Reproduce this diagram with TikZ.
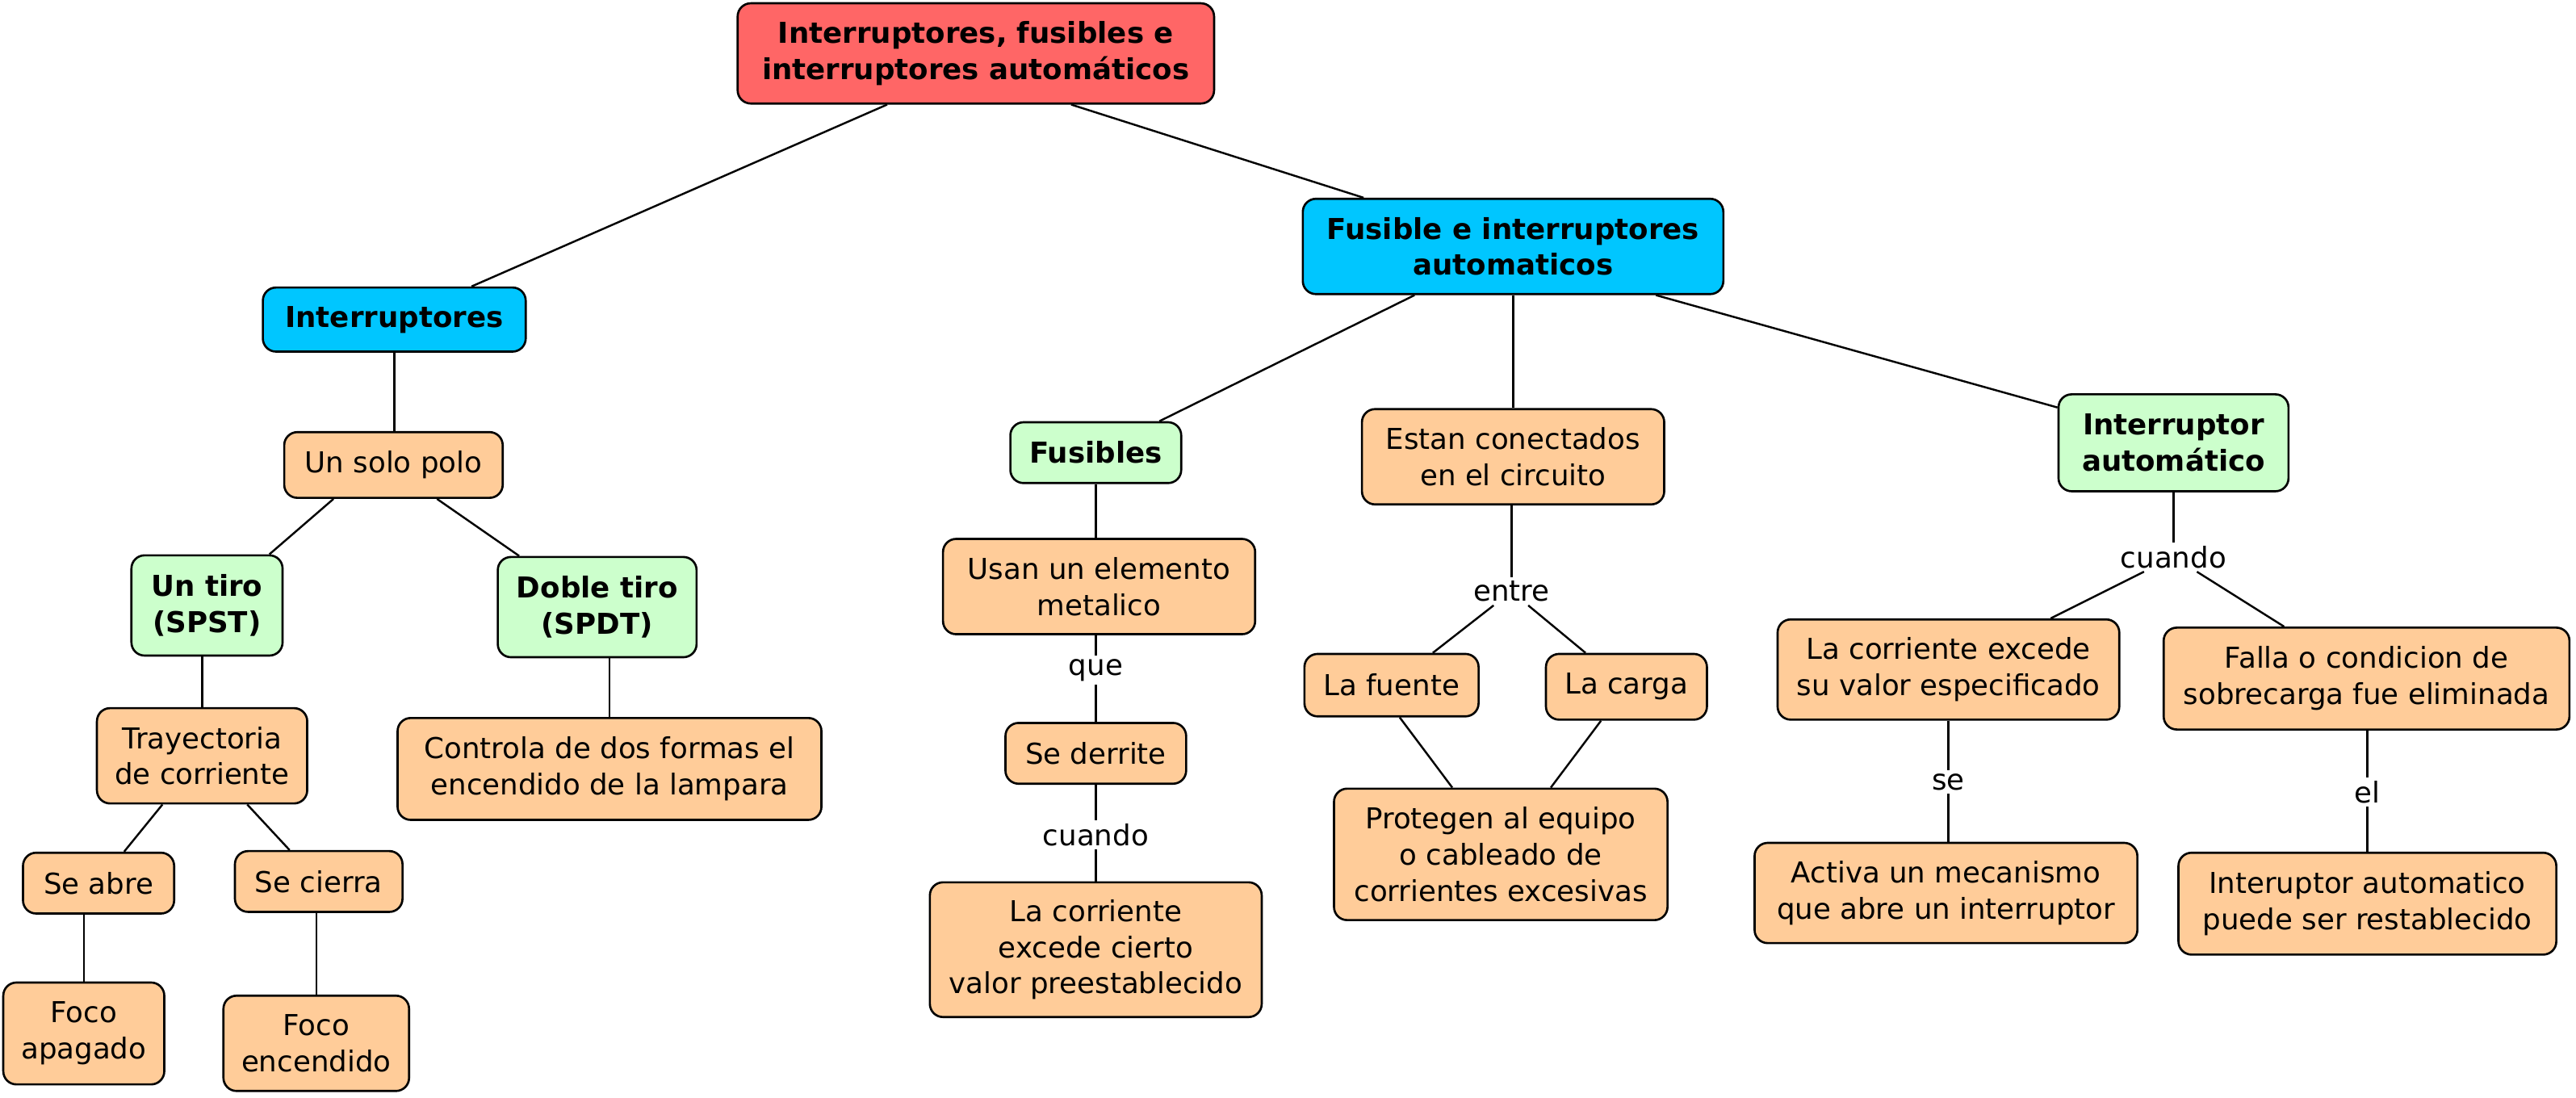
\documentclass[tikz,border=0pt]{standalone}
\usepackage{fontspec}
\setmainfont{DejaVu Sans}
\definecolor{cRed}{RGB}{255,102,102}
\definecolor{cCyan}{RGB}{0,198,255}
\definecolor{cGreen}{RGB}{204,255,204}
\definecolor{cPeach}{RGB}{255,204,153}
\begin{document}
\begin{tikzpicture}[x=1pt,y=-1pt,
  txt/.style={font=\fontsize{17.5}{22}\selectfont},
  btxt/.style={font=\fontsize{17.5}{22}\selectfont\bfseries},
  cbox/.style={draw=black, line width=1.3pt, rounded corners=8pt, align=center, inner sep=0pt},
  sz/.style args={#1/#2}{minimum width=#1pt, minimum height=#2pt},
  rootbox/.style={cbox, btxt, fill=cRed},
  cyanbox/.style={cbox, btxt, fill=cCyan},
  greenbox/.style={cbox, btxt, fill=cGreen},
  peachbox/.style={cbox, txt, fill=cPeach},
  lbl/.style={txt, inner sep=2pt},
  conn/.style={line width=1.2pt}
]
\useasboundingbox (0,0) rectangle (1568,668);
\fill[white] (0,0) rectangle (1568,668);

% nodes
\node[rootbox, sz=290/61] (root) at (594,32.5) {Interruptores, fusibles e\\ interruptores automáticos};
\node[cyanbox, sz=160/39] (int) at (240,194.5) {Interruptores};
\node[cyanbox, sz=256/58] (fus) at (921,150) {Fusible e interruptores\\automaticos};
\node[peachbox, sz=133/40] (usp) at (239.5,283) {Un solo polo};
\node[greenbox, sz=92/61] (untiro) at (126,368.5) {Un tiro\\(SPST)};
\node[greenbox, sz=121/61] (doble) at (363.5,369.5) {Doble tiro\\(SPDT)};
\node[peachbox, sz=128/58] (tray) at (123,460) {Trayectoria\\de corriente};
\node[peachbox, sz=258/62] (contr) at (371,468) {Controla de dos formas el\\encendido de la lampara};
\node[peachbox, sz=92/37] (seabre) at (60,537.5) {Se abre};
\node[peachbox, sz=102/37] (secierra) at (194,536.5) {Se cierra};
\node[peachbox, sz=98/62] (focoap) at (51,629) {Foco\\apagado};
\node[peachbox, sz=113/58] (focoen) at (192.5,635) {Foco\\encendido};

\node[greenbox, sz=104/37] (fusibles) at (667,275.5) {Fusibles};
\node[peachbox, sz=184/58] (estan) at (921,278) {Estan conectados\\en el circuito};
\node[greenbox, sz=140/59] (ia) at (1323,269.5) {Interruptor\\automático};
\node[peachbox, sz=190/58] (usan) at (669,357) {Usan un elemento\\metalico};
\node[peachbox, sz=110/37] (derr) at (667,458.5) {Se derrite};
\node[peachbox, sz=202/82] (corr1) at (667,578) {La corriente\\excede cierto\\valor preestablecido};
\node[peachbox, sz=106/38] (fuente) at (847,417) {La fuente};
\node[peachbox, sz=98/40] (carga) at (990,418) {La carga};
\node[peachbox, sz=203/80] (prot) at (913.5,520) {Protegen al equipo\\o cableado de\\corrientes excesivas};
\node[peachbox, sz=208/61] (corr2) at (1186,407.5) {La corriente excede\\su valor especificado};
\node[peachbox, sz=247/62] (falla) at (1440.5,413) {Falla o condicion de\\sobrecarga fue eliminada};
\node[peachbox, sz=233/61] (activa) at (1184.5,543.5) {Activa un mecanismo\\que abre un interruptor};
\node[peachbox, sz=230/62] (reest) at (1441,550) {Interuptor automatico\\puede ser restablecido};

% link labels
\node[lbl] (lque) at (667,408) {que};
\node[lbl] (lcuando1) at (667,508) {cuando};
\node[lbl] (lentre) at (920,360) {entre};
\node[lbl] (lcuando2) at (1323,339) {cuando};
\node[lbl] (lse) at (1186,476) {se};
\node[lbl] (lel) at (1441,482) {el};

% connectors
\draw[conn] ([xshift=-54pt]root.south) -- ([xshift=47pt]int.north);
\draw[conn] ([xshift=58pt]root.south) -- ([xshift=-91pt]fus.north);
\draw[conn] (int.south) -- (int.south |- usp.north);
\draw[conn] ([xshift=-36.5pt]usp.south) -- ([xshift=38pt]untiro.north);
\draw[conn] ([xshift=26.5pt]usp.south) -- ([xshift=-47.5pt]doble.north);
\draw[conn] (tray.north) -- (tray.north |- untiro.south);
\draw[conn] (contr.north) -- (contr.north |- doble.south);
\draw[conn] (tray) -- (seabre);
\draw[conn] (tray) -- (secierra);
\draw[conn] (focoap.north) -- (focoap.north |- seabre.south);
\draw[conn] (focoen.north) -- (focoen.north |- secierra.south);

\draw[conn] (fus) -- (fusibles);
\draw[conn] (fus) -- (estan);
\draw[conn] ([xshift=87pt]fus.south) -- ([yshift=21.5pt]ia.west);
\draw[conn] (fusibles.south) -- (fusibles.south |- usan.north);
\draw[conn] (usan.south -| lque) -- (lque);
\draw[conn] (lque) -- (derr);
\draw[conn] (derr) -- (lcuando1);
\draw[conn] (lcuando1) -- (corr1);
\draw[conn] (estan.south -| lentre) -- (lentre);
\draw[conn] (lentre) -- (fuente);
\draw[conn] (lentre) -- (carga);
\draw[conn] ([xshift=5pt]fuente.south) -- ([xshift=-29.5pt]prot.north);
\draw[conn] (carga) -- (prot);
\draw[conn] (ia) -- (lcuando2);
\draw[conn] (lcuando2) -- (corr2);
\draw[conn] (lcuando2) -- (falla);
\draw[conn] (corr2.south -| lse) -- (lse);
\draw[conn] (lse) -- (lse |- activa.north);
\draw[conn] (falla.south -| lel) -- (lel);
\draw[conn] (lel) -- (lel |- reest.north);
\end{tikzpicture}
\end{document}
